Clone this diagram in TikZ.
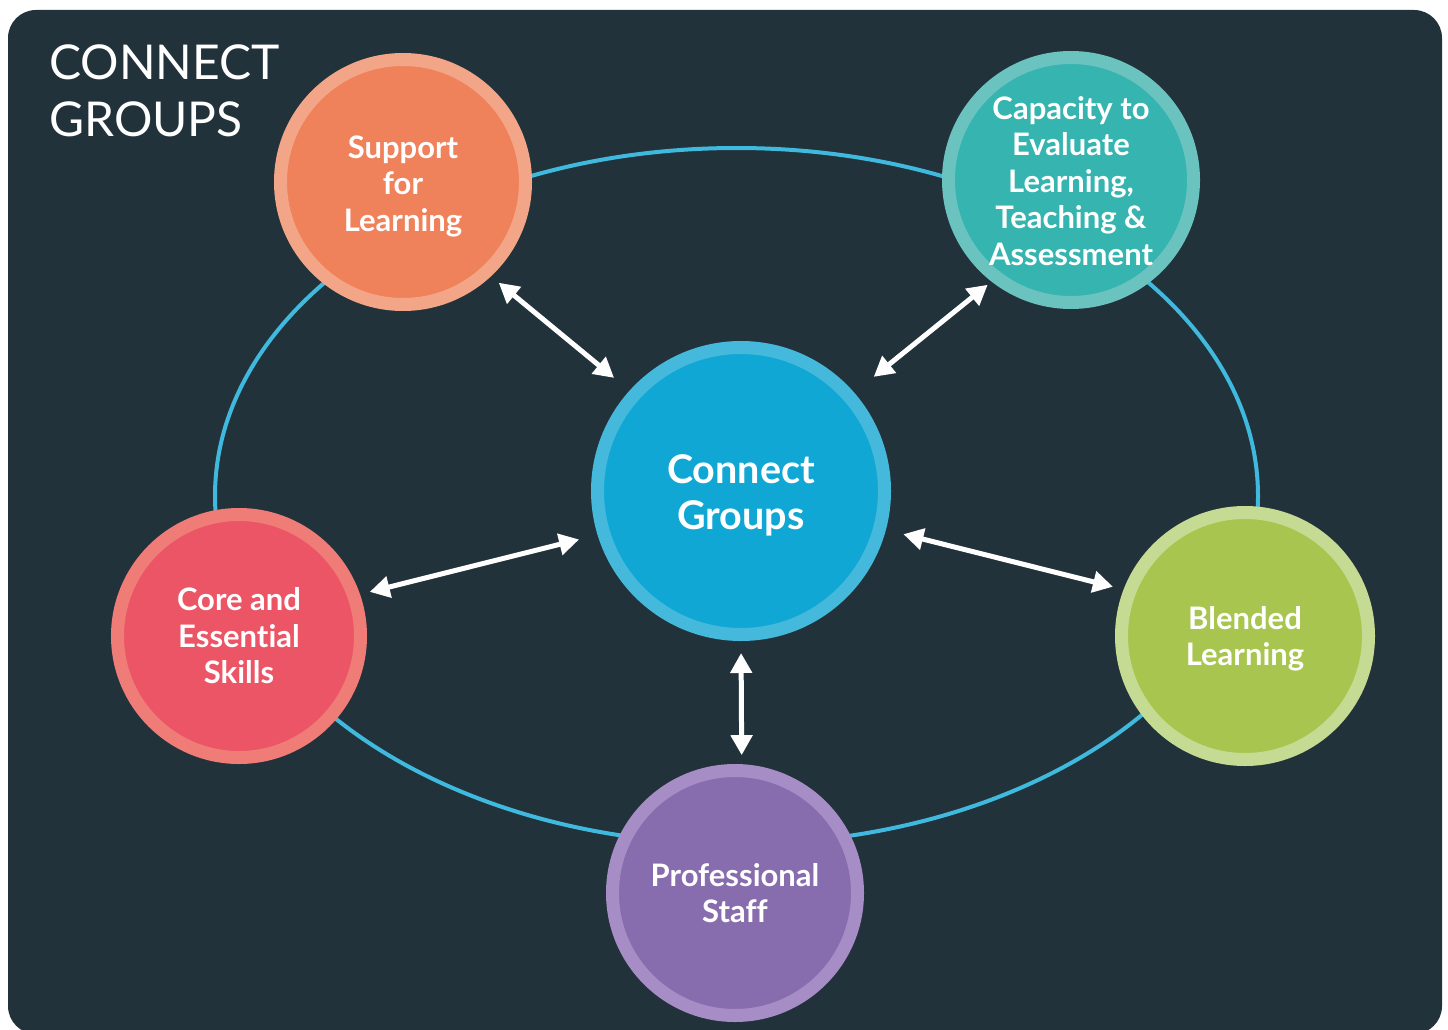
\documentclass[tikz,border=0pt]{standalone}
\usepackage{fontspec}
\setmainfont[Ligatures={NoCommon}]{Lato}
\usetikzlibrary{arrows.meta}
\definecolor{bgc}{HTML}{22323A}
\definecolor{ellc}{HTML}{3FB9DE}
\definecolor{cgO}{HTML}{45B9DC}\definecolor{cgI}{HTML}{10A7D5}
\definecolor{spO}{HTML}{F3A687}\definecolor{spI}{HTML}{F0825B}
\definecolor{caO}{HTML}{6BC3C0}\definecolor{caI}{HTML}{35B4B0}
\definecolor{coO}{HTML}{F07C78}\definecolor{coI}{HTML}{EB5565}
\definecolor{blO}{HTML}{C5DA92}\definecolor{blI}{HTML}{A8C64F}
\definecolor{prO}{HTML}{A68DC5}\definecolor{prI}{HTML}{886DAE}
\tikzset{
  bubble/.style n args={3}{circle, draw=#1, fill=#2, line width=13pt,
    minimum size={2*(#3-6.5)*1pt}, inner sep=0pt},
  btext/.style={text=white, align=center, inner sep=0pt,
    font=\fontsize{31}{36.5}\selectfont\bfseries},
  link/.style={draw=white, line width=5pt, {Triangle[length=20pt,width=21pt]}-{Triangle[length=20pt,width=21pt]}},
}
\begin{document}
\begin{tikzpicture}[x=1pt,y=-1pt]
\useasboundingbox (0,0) rectangle (1448,1030);
\fill[bgc, rounded corners=28pt] (8,10) rectangle (1442,1034);
\node[anchor=base west, text=white, font=\fontsize{48}{57}\selectfont, align=left, inner sep=0pt] (title) at (49,137) {CONNECT\\GROUPS};
\draw[ellc, line width=4pt] (736.5,496) ellipse [x radius=521.5, y radius=348];
\node[bubble={cgO}{cgI}{150}, label={[btext, name=cgt, yshift=-4pt, font=\fontsize{39.5}{46}\selectfont\bfseries]center:Connect\\Groups}] (cg) at (741,491) {};
\node[bubble={spO}{spI}{129}, label={[btext, name=spt, yshift=-4pt]center:Support\\for\\Learning}] (sp) at (403,182) {};
\node[bubble={caO}{caI}{129}, label={[btext, name=cat, yshift=-1pt]center:Capacity to\\Evaluate\\Learning,\\Teaching \&\\Assessment}] (ca) at (1071,180) {};
\node[bubble={coO}{coI}{128}, label={[btext, name=cot]center:Core and\\Essential\\Skills}] (co) at (239,636) {};
\node[bubble={blO}{blI}{130}, label={[btext, name=blt, yshift=-3pt]center:Blended\\Learning}] (bl) at (1245,636) {};
\node[bubble={prO}{prI}{129}, label={[btext, name=prt]center:Professional\\Staff}] (pr) at (735,893) {};
\draw[link, shorten <=10pt, shorten >=20pt] (sp.-47.6) -- (cg.138.3);
\draw[link, shorten <=5pt, shorten >=25pt] (ca.232.3) -- (cg.41.5);
\draw[link, shorten <=10pt, shorten >=19pt] (co.19.5) -- (cg.197.3);
\draw[link, shorten <=18pt, shorten >=11pt] (cg.-15.5) -- (bl.159.3);
\draw[link, shorten <=12pt, shorten >=9pt] (cg.-90) -- (pr.87.5);
\end{tikzpicture}
\end{document}
